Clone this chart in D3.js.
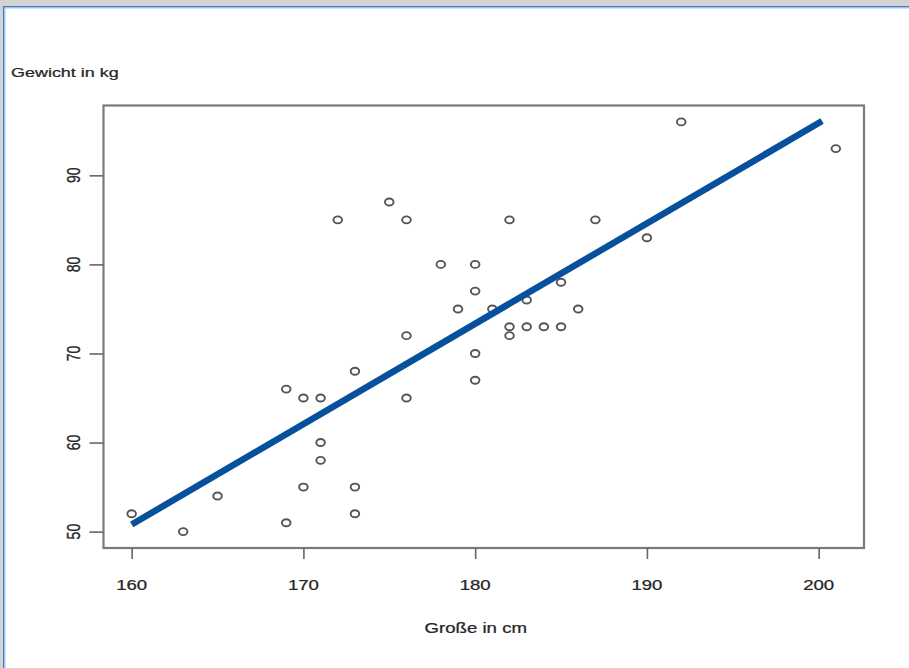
<!DOCTYPE html>
<html lang="de">
<head>
  <meta charset="UTF-8">
  <title>Größe und Gewicht</title>
  <script src="https://cdnjs.cloudflare.com/ajax/libs/d3/7.8.5/d3.min.js"></script>
  <style>
    html, body { margin: 0; padding: 0; background: #fff; overflow: hidden; }
    #chart { width: 909px; height: 668px; }
    #chart svg { display: block; }
    text { font-family: "Liberation Sans", Arial, sans-serif; fill: #262626; stroke: #262626; stroke-width: 0.25; }
  </style>
</head>
<body>
  <div id="chart"></div>
  <script>
    // Größe (cm) und Gewicht (kg)
    const groesse = [160, 163, 165, 169, 169, 170, 170, 171, 171, 171, 172, 173, 173, 173,
      175, 176, 176, 176, 178, 179, 180, 180, 180, 180, 181, 182, 182, 182, 183, 183,
      184, 185, 185, 186, 187, 190, 192, 201];
    const gewicht = [52, 50, 54, 51, 66, 55, 65, 65, 60, 58, 85, 68, 55, 52,
      87, 85, 72, 65, 80, 75, 80, 77, 70, 67, 75, 85, 73, 72, 76, 73,
      73, 78, 73, 75, 85, 83, 96, 93];
    const xTicks = [160, 170, 180, 190, 200];
    const yTicks = [50, 60, 70, 80, 90];
    const lineX = [160, 200.2];
    const lineY = [50.8, 96.1];

    const W = 909, H = 668;
    const plot = { left: 103.5, right: 864, top: 105.5, bottom: 548 };
    const stretch = 1.33;

    const svg = d3.select("#chart").append("svg")
      .attr("width", W).attr("height", H);

    // window frame
    svg.append("rect").attr("x", 0).attr("y", 0).attr("width", W).attr("height", 6).attr("fill", "#d3d3d3");
    svg.append("rect").attr("x", 0).attr("y", 0).attr("width", 3).attr("height", H).attr("fill", "#d3d3d3");
    svg.append("rect").attr("x", 3).attr("y", 6).attr("width", W).attr("height", 1.5).attr("fill", "#3b7dcc");
    svg.append("rect").attr("x", 3).attr("y", 6).attr("width", 1.5).attr("height", H).attr("fill", "#3b7dcc");
    svg.append("rect").attr("x", 4.5).attr("y", 7.5).attr("width", W).attr("height", 1).attr("fill", "#a9c9ee");
    svg.append("rect").attr("x", 4.5).attr("y", 7.5).attr("width", 1).attr("height", H).attr("fill", "#a9c9ee");

    // R style 4% padding
    const pad = ext => { const d = (ext[1] - ext[0]) * 0.04; return [ext[0] - d, ext[1] + d]; };
    const x = d3.scaleLinear().domain(pad(d3.extent(groesse))).range([plot.left, plot.right]);
    const y = d3.scaleLinear().domain(pad(d3.extent(gewicht))).range([plot.bottom, plot.top]);

    // box
    svg.append("rect")
      .attr("x", plot.left).attr("y", plot.top)
      .attr("width", plot.right - plot.left).attr("height", plot.bottom - plot.top)
      .attr("fill", "none").attr("stroke", "#7a7a7a").attr("stroke-width", 2.2);

    // x axis
    const xAxis = svg.append("g")
      .attr("transform", `translate(0,${plot.bottom})`)
      .call(d3.axisBottom(x).tickValues(xTicks).tickSize(11).tickFormat(""));
    xAxis.select(".domain").remove();
    xAxis.selectAll("line").attr("stroke", "#666").attr("stroke-width", 1.6);

    svg.selectAll("text.xlab").data(xTicks).join("text")
      .attr("class", "xlab")
      .attr("transform", d => `translate(${x(d)},590) scale(${stretch},1)`)
      .attr("text-anchor", "middle")
      .attr("font-size", 14)
      .text(d => d);

    // y axis
    const yAxis = svg.append("g")
      .attr("transform", `translate(${plot.left},0)`)
      .call(d3.axisLeft(y).tickValues(yTicks).tickSize(14).tickFormat(""));
    yAxis.select(".domain").remove();
    yAxis.selectAll("line").attr("stroke", "#666").attr("stroke-width", 1.6);

    svg.selectAll("text.ylab").data(yTicks).join("text")
      .attr("class", "ylab")
      .attr("transform", d => `translate(80,${y(d)}) scale(${stretch},1) rotate(-90)`)
      .attr("text-anchor", "middle")
      .attr("font-size", 14)
      .text(d => d);

    // titles
    svg.append("text")
      .attr("transform", `translate(${(plot.left + plot.right) / 2 - 8},633) scale(${stretch},1)`)
      .attr("text-anchor", "middle")
      .attr("font-size", 14)
      .text("Große in cm");

    svg.append("text")
      .attr("transform", `translate(11,77) scale(${stretch},1)`)
      .attr("font-size", 13.5)
      .text("Gewicht in kg");

    // points
    svg.selectAll("ellipse.pt").data(groesse).join("ellipse")
      .attr("class", "pt")
      .attr("cx", (d, i) => x(d))
      .attr("cy", (d, i) => y(gewicht[i]))
      .attr("rx", 4.3).attr("ry", 3.5)
      .attr("fill", "none")
      .attr("stroke", "#555")
      .attr("stroke-width", 1.9);

    // regression line
    const line = d3.line().x(d => x(d[0])).y(d => y(d[1]));
    svg.append("path")
      .datum(lineX.map((v, i) => [v, lineY[i]]))
      .attr("d", line)
      .attr("fill", "none")
      .attr("stroke", "#06509c")
      .attr("stroke-width", 6.5);
  </script>
</body>
</html>
